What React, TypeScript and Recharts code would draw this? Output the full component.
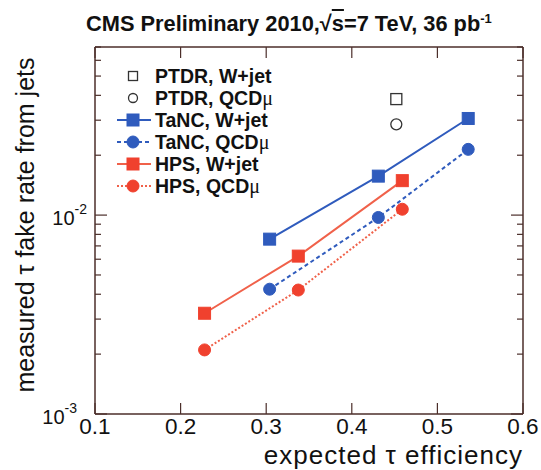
import React from "react";
import { ComposedChart, Scatter, XAxis, YAxis, Legend } from "recharts";

// efficiencies (x) and fake rates (y)
const tancEff = [0.304, 0.431, 0.536];
const tancWjet = [0.00757, 0.0157, 0.0306];
const tancQcd = [0.00424, 0.00973, 0.0214];

const hpsEff = [0.228, 0.3375, 0.459];
const hpsWjet = [0.00321, 0.00622, 0.0149];
const hpsQcd = [0.0021, 0.0042, 0.0107];

const ptdrEff = [0.452];
const ptdrWjet = [0.0383];
const ptdrQcd = [0.0286];

const xTicks = [0.1, 0.2, 0.3, 0.4, 0.5, 0.6];
const yTicks = [
	0.001, 0.002, 0.003, 0.004, 0.005, 0.006, 0.007, 0.008, 0.009, 0.01, 0.02,
	0.03, 0.04, 0.05, 0.06, 0.07
];

const BLUE = "#2f5bbd";
const RED = "#f0412e";
const RED_LINE = "#f0614a";
const AXIS = "#4b2e2a";
const FONT = "'Liberation Sans', Arial, sans-serif";
const X_MARGIN = 4;

const pts = (xs: number[], ys: number[]) => xs.map((x, i) => ({ x, y: ys[i] }));

const isMajor = (v: number) => Math.abs(Math.log10(v) - Math.round(Math.log10(v))) < 1e-6;

const Square = ({ cx, cy, fill, size = 12, open = false }: any) => (
	<rect
		x={cx - size / 2}
		y={cy - size / 2}
		width={size}
		height={size}
		fill={open ? "none" : fill}
		stroke={open ? "#333" : fill}
		strokeWidth={open ? 1.3 : 1}
	/>
);

const Dot = ({ cx, cy, fill, r = 6, open = false }: any) => (
	<circle
		cx={cx}
		cy={cy}
		r={r}
		fill={open ? "none" : fill}
		stroke={open ? "#333" : fill}
		strokeWidth={open ? 1.3 : 1}
	/>
);

const BottomTick = ({ x, y, payload }: any) => {
	const ay = y - X_MARGIN;
	return (
		<g>
			<line x1={x} x2={x} y1={ay} y2={ay - 11} stroke={AXIS} strokeWidth={1.2} />
			<text x={x} y={y} dy="0.72em" textAnchor="middle" fontSize={22.5} fontFamily={FONT} fill="#111">
				{payload.value}
			</text>
		</g>
	);
};

const TopTick = ({ x, y }: any) => (
	<line x1={x} x2={x} y1={y} y2={y + 11} stroke={AXIS} strokeWidth={1.2} />
);

const LeftTick = ({ x, y, payload }: any) => {
	const v = payload.value;
	const major = isMajor(v);
	const ax = x + 7;
	// the lowest label sits next to the "0.1" tick label, nudge it left
	const shift = v === yTicks[0] ? 10 : 0;
	return (
		<g>
			<line x1={ax} x2={ax + (major ? 12 : 6)} y1={y} y2={y} stroke={AXIS} strokeWidth={1.2} />
			{major && (
				<text x={x - 1 - shift} y={y + 10} textAnchor="end" fontSize={20} fontFamily={FONT} fill="#111">
					10
					<tspan dy={-11} fontSize={14}>
						{Math.round(Math.log10(v))}
					</tspan>
				</text>
			)}
		</g>
	);
};

const RightTick = ({ x, y, payload }: any) => {
	const major = isMajor(payload.value);
	return <line x1={x} x2={x - (major ? 12 : 6)} y1={y} y2={y} stroke={AXIS} strokeWidth={1.2} />;
};

const legendRows = [
	{ label: "PTDR, W+jet", mu: false, marker: "sq", open: true, color: "#333", dash: null },
	{ label: "PTDR, QCD", mu: true, marker: "ci", open: true, color: "#333", dash: null },
	{ label: "TaNC, W+jet", mu: false, marker: "sq", open: false, color: BLUE, dash: "" },
	{ label: "TaNC, QCD", mu: true, marker: "ci", open: false, color: BLUE, dash: "4 3" },
	{ label: "HPS, W+jet", mu: false, marker: "sq", open: false, color: RED, dash: "" },
	{ label: "HPS, QCD", mu: true, marker: "ci", open: false, color: RED, dash: "2 2" }
];

const renderLegend = () => (
	<div style={{ fontFamily: FONT, fontWeight: "bold", fontSize: 19.5, color: "#111" }}>
		{legendRows.map((r) => (
			<div key={r.label + r.mu} style={{ display: "flex", alignItems: "center", height: 22 }}>
				<svg width={34} height={22} style={{ marginRight: 4 }}>
					{r.dash !== null && (
						<line
							x1={0}
							x2={34}
							y1={11}
							y2={11}
							stroke={r.color === RED ? RED_LINE : r.color}
							strokeWidth={2}
							strokeDasharray={r.dash || undefined}
						/>
					)}
					{r.marker === "sq" ? (
						<Square cx={16} cy={11} fill={r.color} open={r.open} size={r.open ? 9 : 12} />
					) : (
						<Dot cx={16} cy={11} fill={r.color} open={r.open} r={r.open ? 4.5 : 6} />
					)}
				</svg>
				<span style={{ whiteSpace: "nowrap" }}>
					{r.label}
					{r.mu && (
						<span style={{ fontWeight: "normal", fontSize: 20, fontFamily: "'Liberation Serif', serif" }}>
							μ
						</span>
					)}
				</span>
			</div>
		))}
	</div>
);

export default function App() {
	return (
		<div style={{ position: "relative", width: 541, height: 470, background: "#fff", fontFamily: FONT }}>
			<style>{"body{margin:0}"}</style>
			<div
				style={{
					position: "absolute",
					left: 86,
					top: 11,
					fontWeight: "bold",
					fontSize: 21.8,
					whiteSpace: "nowrap",
					color: "#111"
				}}>
				CMS Preliminary 2010,√<span style={{ textDecoration: "overline" }}>s</span>=7 TeV, 36 pb
				<sup style={{ fontSize: 13 }}>-1</sup>
			</div>
			<ComposedChart width={541} height={470} margin={{ top: 46, right: 17, bottom: 0, left: 0 }}>
				<XAxis
					dataKey="x"
					type="number"
					domain={[0.1, 0.6]}
					allowDataOverflow
					ticks={xTicks}
					interval={0}
					height={56}
					tickSize={0}
					tickMargin={X_MARGIN}
					tickLine={false}
					tick={BottomTick}
					axisLine={{ stroke: AXIS, strokeWidth: 1.5 }}
				/>
				<XAxis
					xAxisId="top"
					orientation="top"
					dataKey="x"
					type="number"
					domain={[0.1, 0.6]}
					allowDataOverflow
					ticks={xTicks}
					interval={0}
					height={1}
					tickSize={0}
					tickMargin={0}
					tickLine={false}
					tick={TopTick}
					axisLine={{ stroke: AXIS, strokeWidth: 1.5 }}
				/>
				<YAxis
					dataKey="y"
					type="number"
					scale="log"
					domain={[0.001, 0.07]}
					allowDataOverflow
					ticks={yTicks}
					interval={0}
					width={95}
					tickSize={0}
					tickMargin={7}
					tickLine={false}
					tick={LeftTick}
					axisLine={{ stroke: AXIS, strokeWidth: 1.5 }}
				/>
				<YAxis
					yAxisId="right"
					orientation="right"
					dataKey="y"
					type="number"
					scale="log"
					domain={[0.001, 0.07]}
					allowDataOverflow
					ticks={yTicks}
					interval={0}
					width={1}
					tickSize={0}
					tickMargin={0}
					tickLine={false}
					tick={RightTick}
					axisLine={{ stroke: AXIS, strokeWidth: 1.5 }}
				/>
				<Legend
					layout="vertical"
					align="center"
					verticalAlign="middle"
					content={renderLegend}
					wrapperStyle={{ position: "absolute", left: 117, top: 65, width: "auto" }}
				/>
				<Scatter
					name="TaNC, W+jet"
					data={pts(tancEff, tancWjet)}
					line={{ stroke: BLUE, strokeWidth: 2 }}
					shape={(p: any) => <Square cx={p.cx} cy={p.cy} fill={BLUE} />}
					isAnimationActive={false}
				/>
				<Scatter
					name="TaNC, QCD"
					data={pts(tancEff, tancQcd)}
					line={{ stroke: BLUE, strokeWidth: 2, strokeDasharray: "4 3" }}
					shape={(p: any) => <Dot cx={p.cx} cy={p.cy} fill={BLUE} />}
					isAnimationActive={false}
				/>
				<Scatter
					name="HPS, W+jet"
					data={pts(hpsEff, hpsWjet)}
					line={{ stroke: RED_LINE, strokeWidth: 2 }}
					shape={(p: any) => <Square cx={p.cx} cy={p.cy} fill={RED} />}
					isAnimationActive={false}
				/>
				<Scatter
					name="HPS, QCD"
					data={pts(hpsEff, hpsQcd)}
					line={{ stroke: RED_LINE, strokeWidth: 2, strokeDasharray: "2 2" }}
					shape={(p: any) => <Dot cx={p.cx} cy={p.cy} fill={RED} />}
					isAnimationActive={false}
				/>
				<Scatter
					name="PTDR, W+jet"
					xAxisId="top"
					yAxisId="right"
					data={pts(ptdrEff, ptdrWjet)}
					shape={(p: any) => <Square cx={p.cx} cy={p.cy} open size={11} />}
					isAnimationActive={false}
				/>
				<Scatter
					name="PTDR, QCD"
					xAxisId="top"
					yAxisId="right"
					data={pts(ptdrEff, ptdrQcd)}
					shape={(p: any) => <Dot cx={p.cx} cy={p.cy} open r={5.5} />}
					isAnimationActive={false}
				/>
			</ComposedChart>
			<div
				style={{
					position: "absolute",
					left: 25,
					top: 225,
					transform: "translate(-50%, -50%) rotate(-90deg)",
					fontSize: 25,
					whiteSpace: "nowrap",
					color: "#111"
				}}>
				measured τ fake rate from jets
			</div>
			<div
				style={{
					position: "absolute",
					right: 18,
					top: 445,
					fontSize: 26,
					letterSpacing: 1,
					lineHeight: "20px",
					whiteSpace: "nowrap",
					color: "#111"
				}}>
				expected τ efficiency
			</div>
		</div>
	);
}
